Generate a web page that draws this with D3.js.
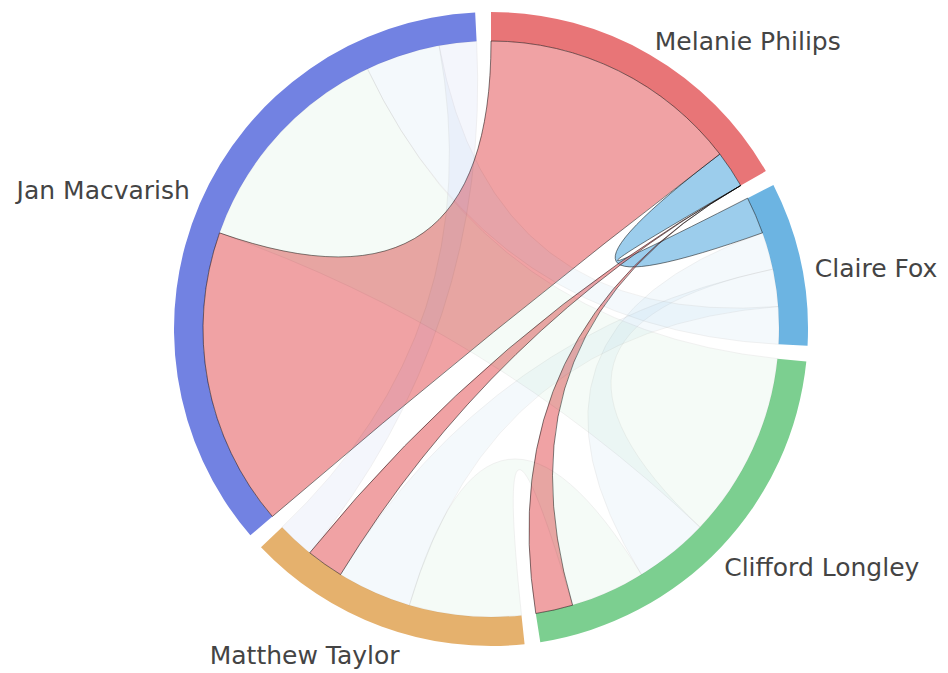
<!DOCTYPE html>
<html>
<head>
<meta charset="utf-8">
<script src="https://cdn.jsdelivr.net/npm/d3@7/dist/d3.min.js"></script>
<style>
  body { margin: 0; background: #ffffff; }
  svg { display: block; }
</style>
</head>
<body>
<svg id="chart" width="948" height="673"></svg>
<script>
// ---- data ----
const names = ["Melanie Philips", "Claire Fox", "Clifford Longley", "Matthew Taylor", "Jan Macvarish"];
const groupColors = ["#e87577", "#6cb4e2", "#7ccf90", "#e5b16d", "#7282e2"];
// row i = values flowing from group i to group j
const melanieRow  = [0, 1, 0, 0, 7];
const claireRow   = [1, 0, 1, 1, 1];
const cliffordRow = [1, 2, 0, 2, 5];
const matthewRow  = [1, 2, 3, 0, 1];
const janRow      = [8, 2, 6, 1, 0];
const matrix = [melanieRow, claireRow, cliffordRow, matthewRow, janRow];
const focusIndex = 0; // highlighted group (Melanie Philips)

// ---- layout ----
const W = 948, H = 673;
const cx = 491, cy = 329;
const outerR = 317, innerR = 288;
const labelR = 331;
const labelNudge = [[-2, -1], [0, 8], [-7, 11], [23, 16], [3, -8]];

const svg = d3.select("#chart");
const g = svg.append("g").attr("transform", `translate(${cx},${cy})`);

const chordLayout = d3.chord().padAngle(0.05).sortSubgroups(d3.descending);
const chords = chordLayout(matrix);

const arc = d3.arc().innerRadius(innerR).outerRadius(outerR);
const ribbon = d3.ribbon().radius(innerR);

g.append("g")
  .selectAll("path")
  .data(chords.groups)
  .join("path")
  .attr("d", arc)
  .attr("fill", d => groupColors[d.index]);

g.append("g")
  .attr("fill-opacity", 0.67)
  .selectAll("path")
  .data(chords)
  .join("path")
  .attr("d", ribbon)
  .attr("fill", d => groupColors[d.target.index])
  .attr("stroke", "#000")
  .attr("stroke-width", 0.5)
  .style("opacity", d => (d.source.index === focusIndex || d.target.index === focusIndex) ? 1 : 0.1);

g.append("g")
  .selectAll("text")
  .data(chords.groups)
  .join("text")
  .each(function(d) {
    const a = (d.startAngle + d.endAngle) / 2;
    const x = labelR * Math.sin(a) + labelNudge[d.index][0];
    const y = -labelR * Math.cos(a) + labelNudge[d.index][1];
    d3.select(this)
      .attr("x", x)
      .attr("y", y)
      .attr("text-anchor", a > Math.PI ? "end" : "start");
  })
  .attr("dominant-baseline", "central")
  .attr("font-family", "'DejaVu Sans', sans-serif")
  .attr("font-size", 25)
  .attr("fill", "#444")
  .text(d => names[d.index]);
</script>
</body>
</html>
